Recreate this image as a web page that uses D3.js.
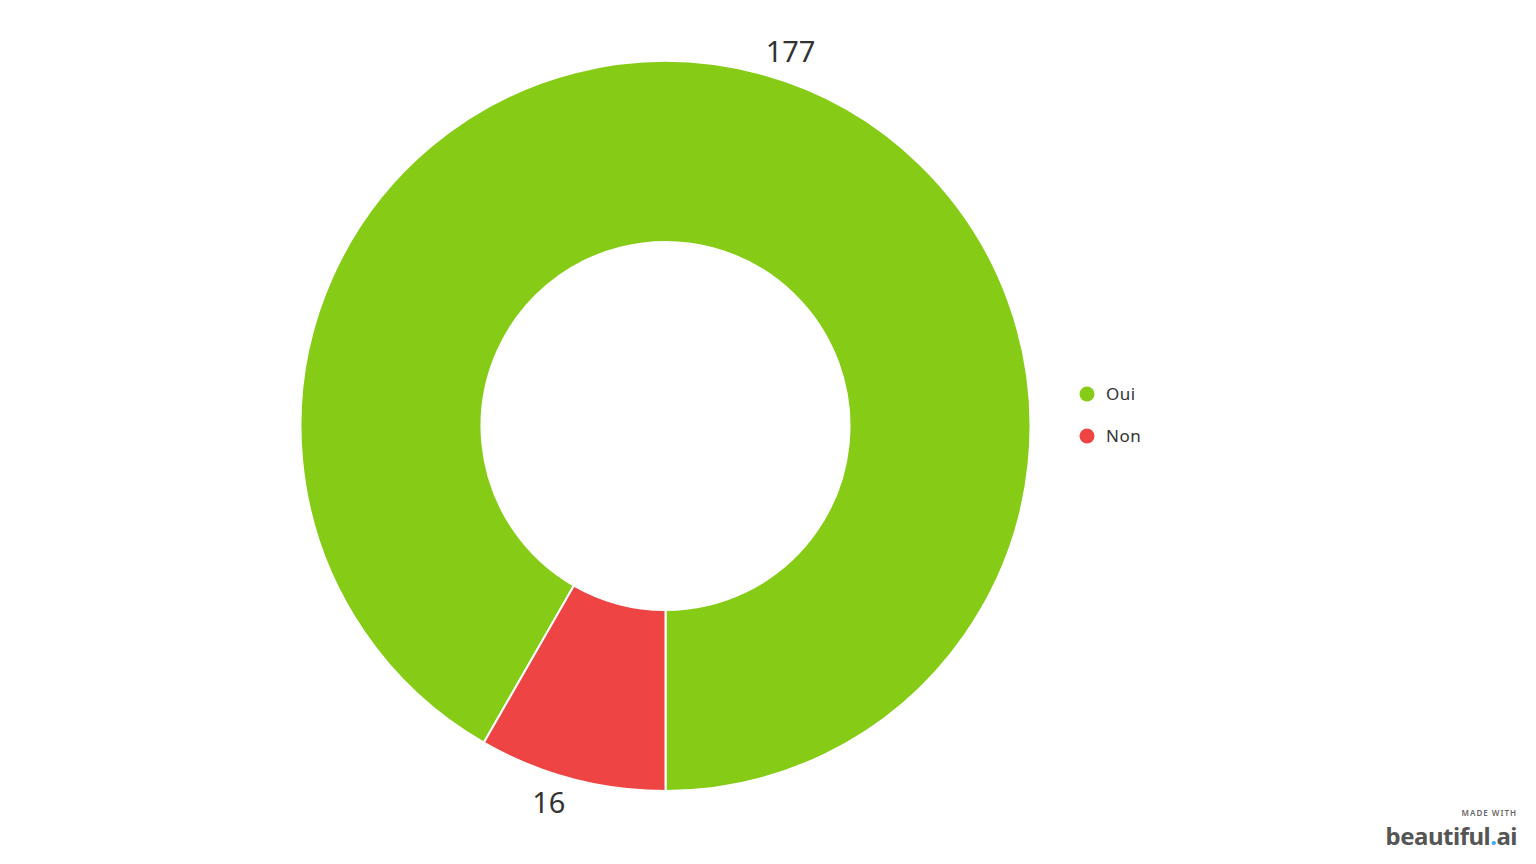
<!DOCTYPE html>
<html><head><meta charset="utf-8">
<script src="https://cdn.jsdelivr.net/npm/d3@7"></script>
<style>body{margin:0;background:#fff;overflow:hidden}</style>
</head><body>
<svg id="c" width="1536" height="864"></svg>
<script>
const categories = ["Oui", "Non"];
const values = [177, 16];
const colors = ["#86CC17", "#EF4444"];

const svg = d3.select("#c");
const cx = 665.5, cy = 426, R = 365, r = 184;
const g = svg.append("g").attr("transform", `translate(${cx},${cy})`);

const data = categories.map((c, i) => ({cat: c, v: values[i], col: colors[i]}));
// Non placed from 6 o'clock clockwise, Oui continues
const off = 2*Math.PI*values[1]/d3.sum(values);
const pie = d3.pie().value(d => d.v).sort(null)
  .startAngle(Math.PI + off)
  .endAngle(3*Math.PI + off);
const arcs = pie(data);
const arc = d3.arc().innerRadius(r).outerRadius(R);
g.selectAll("path").data(arcs).enter().append("path")
  .attr("d", arc).attr("fill", d => d.data.col)
  .attr("stroke", "#fff").attr("stroke-width", 2);

const lr = 389;
g.selectAll("text.lbl").data(arcs).enter().append("text")
  .attr("class","lbl")
  .each(function(d){
    const a = (d.startAngle + d.endAngle)/2;
    const x = lr*Math.sin(a), y = -lr*Math.cos(a);
    d3.select(this).attr("x", x).attr("y", y)
      .attr("text-anchor", Math.sin(a) >= 0 ? "start" : "end")
      .attr("dominant-baseline","central");
  })
  .attr("font-family","Noto Sans, sans-serif").attr("font-size", 29)
  .attr("fill","#333").text(d => d.data.v);

const leg = svg.append("g").attr("transform","translate(1087,394)");
const li = leg.selectAll("g").data(data).enter().append("g")
  .attr("transform",(d,i)=>`translate(0,${i*42})`);
li.append("circle").attr("r",7.5).attr("fill",d=>d.col);
li.append("text").attr("x",19).attr("dy","0.35em")
  .attr("font-family","Noto Sans, sans-serif").attr("font-size",17)
  .attr("fill","#333").attr("letter-spacing","0.5").text(d=>d.cat);

const wm = svg.append("g");
wm.append("text").attr("x",1517).attr("y",816).attr("text-anchor","end")
  .attr("font-family","Noto Sans, sans-serif").attr("font-size",8).attr("font-weight",600)
  .attr("letter-spacing","1").attr("fill","#666").text("MADE WITH");
const t = wm.append("text").attr("x",1517).attr("y",845).attr("text-anchor","end")
  .attr("font-family","Noto Sans, sans-serif").attr("font-size",24).attr("font-weight",700)
  .attr("fill","#555").attr("letter-spacing","-0.5");
t.append("tspan").text("beautiful");
t.append("tspan").attr("fill","#3BA9F5").text(".");
t.append("tspan").text("ai");
</script>
</body></html>
